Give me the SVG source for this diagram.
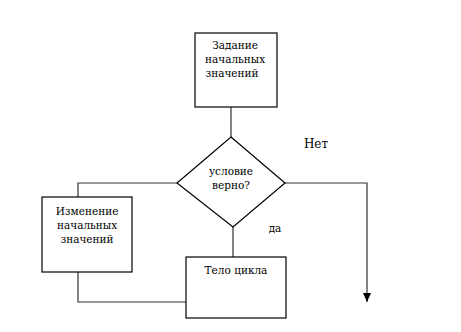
<svg xmlns="http://www.w3.org/2000/svg" width="461" height="332" viewBox="0 0 461 332">
<defs>
<style>
.box{fill:#fff;stroke:#000;stroke-width:1.2}
.ln{fill:none;stroke:#333;stroke-width:1.2}
text{font-family:"DejaVu Serif",serif;fill:#000;text-anchor:middle}
.t{font-size:10.5px}
.l{font-size:12px}
</style>
<marker id="arr" markerWidth="10" markerHeight="8" refX="9" refY="4" orient="auto" markerUnits="userSpaceOnUse">
<path d="M0,0 L9,4 L0,8 Z" fill="#000"/>
</marker>
</defs>
<rect width="461" height="332" fill="#fff"/>
<g id="connectors">
<line class="ln" x1="231" y1="107" x2="231" y2="137"/>
<polyline class="ln" points="177,183 78,183 78,197"/>
<polyline class="ln" points="78,272 78,302 186,302"/>
<line class="ln" x1="233" y1="227" x2="233" y2="257"/>
<polyline class="ln" points="285,183 367,183 367,302" marker-end="url(#arr)"/>
</g>
<g id="start">
<rect class="box" x="195" y="33" width="82" height="74"/>
<text class="t" x="235" y="49">Задание</text>
<text class="t" x="235" y="63">начальных</text>
<text class="t" x="232" y="77">значений</text>
</g>
<g id="cond">
<polygon class="box" points="231,137 285,183 233,227 177,183"/>
<text class="t" x="231" y="175">условие</text>
<text class="t" x="231" y="189">верно?</text>
</g>
<g id="change">
<rect class="box" x="42" y="197" width="90" height="75"/>
<text class="t" x="87" y="215">Изменение</text>
<text class="t" x="87" y="229">начальных</text>
<text class="t" x="87" y="243">значений</text>
</g>
<g id="body">
<rect class="box" x="186" y="257" width="100" height="61"/>
<text class="t" x="236" y="274">Тело цикла</text>
</g>
<g id="labels">
<text class="l" x="316" y="148">Нет</text>
<text class="t" x="275" y="232">да</text>
</g>
</svg>
